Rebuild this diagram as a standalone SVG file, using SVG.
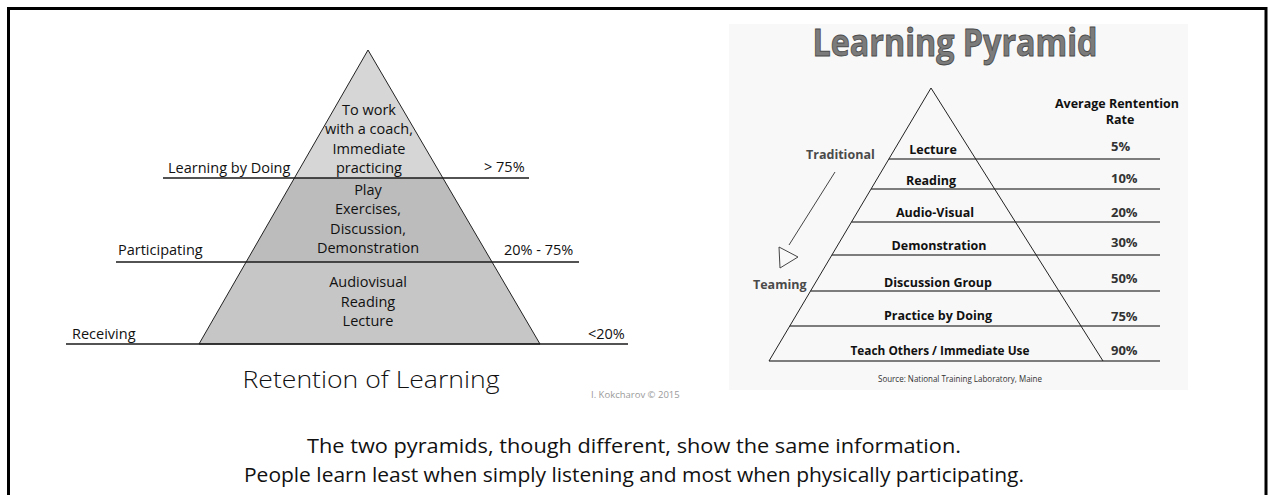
<svg xmlns="http://www.w3.org/2000/svg" width="1268" height="495" viewBox="0 0 1268 495">
<style>
.cal{font-family:"Open Sans","Liberation Sans",sans-serif;fill:#111}
.lt{font-size:14.5px;text-anchor:middle}
.side{font-size:14.5px}
.rb{font-family:"Open Sans","Liberation Sans",sans-serif;font-weight:bold;font-size:12.5px;fill:#111;text-anchor:middle}
.pct{font-family:"Open Sans","Liberation Sans",sans-serif;font-weight:bold;font-size:13px;fill:#333}
.gl{font-family:"Open Sans","Liberation Sans",sans-serif;font-weight:bold;font-size:12.5px;fill:#4a4a4a}
.lline{stroke:#1a1a1a;stroke-width:1.5;fill:none}
.rline{stroke:#555;stroke-width:1.6;fill:none}
.edge{stroke:#222;stroke-width:1;fill:none}
</style>
<rect x="0" y="0" width="1268" height="495" fill="#fff"/>
<g id="frame">
<path d="M8.5 500 V8.5 H1266 V500" fill="none" stroke="#000" stroke-width="3"/>
</g>

<g id="left-pyramid">
<g id="tier-top">
<polygon points="368,50 442.9,178 294.4,178" fill="#d6d6d6"/>
<text class="cal lt" x="369" y="115">To work</text>
<text class="cal lt" x="369" y="134">with a coach,</text>
<text class="cal lt" x="369" y="154">Immediate</text>
<text class="cal lt" x="369" y="173">practicing</text>
</g>
<g id="tier-middle">
<polygon points="294.4,178 442.9,178 492,262 246.1,262" fill="#bcbcbc"/>
<text class="cal lt" x="368" y="195">Play</text>
<text class="cal lt" x="368" y="214">Exercises,</text>
<text class="cal lt" x="368" y="234">Discussion,</text>
<text class="cal lt" x="368" y="253">Demonstration</text>
</g>
<g id="tier-bottom">
<polygon points="246.1,262 492,262 540,344 199,344" fill="#c6c6c6"/>
<text class="cal lt" x="368" y="287">Audiovisual</text>
<text class="cal lt" x="368" y="307">Reading</text>
<text class="cal lt" x="368" y="326">Lecture</text>
</g>
<polygon points="368,50 540,344 199,344" class="edge"/>
<line x1="163" y1="178" x2="529" y2="178" class="lline"/>
<line x1="116" y1="262" x2="579" y2="262" class="lline"/>
<line x1="66" y1="344" x2="628" y2="344" class="lline"/>
<g id="label-doing">
<text class="cal side" x="168" y="173">Learning by Doing</text>
<text class="cal side" x="484" y="172">&gt; 75%</text>
</g>
<g id="label-participating">
<text class="cal side" x="118" y="255">Participating</text>
<text class="cal side" x="504" y="255">20% - 75%</text>
</g>
<g id="label-receiving">
<text class="cal side" x="72" y="339">Receiving</text>
<text class="cal side" x="588" y="339">&lt;20%</text>
</g>
<text id="left-title" class="cal" x="371" y="388" font-size="24" font-weight="300" text-anchor="middle" textLength="257" lengthAdjust="spacingAndGlyphs">Retention of Learning</text>
<text id="credit" x="591" y="398" font-family="Open Sans, Liberation Sans, sans-serif" font-size="9.5" fill="#9a9a9a">I. Kokcharov © 2015</text>
</g>

<g id="right-pyramid">
<rect x="729" y="24" width="459" height="366" fill="#f8f8f8"/>
<text id="right-title" x="955" y="56" font-family="Open Sans, Liberation Sans, sans-serif" font-weight="bold" font-size="38" fill="#7b7b7b" stroke="#4a4a4a" stroke-width="0.9" text-anchor="middle" textLength="285" lengthAdjust="spacingAndGlyphs">Learning Pyramid</text>
<g id="header">
<text class="rb" x="1117" y="108">Average Rentention</text>
<text class="rb" x="1120" y="124">Rate</text>
</g>
<line x1="888.9" y1="159" x2="1160" y2="159" class="rline"/>
<line x1="871.1" y1="189" x2="1160" y2="189" class="rline"/>
<line x1="851.5" y1="222" x2="1160" y2="222" class="rline"/>
<line x1="831.9" y1="255" x2="1160" y2="255" class="rline"/>
<line x1="810.5" y1="291" x2="1160" y2="291" class="rline"/>
<line x1="789.8" y1="326" x2="1160" y2="326" class="rline"/>
<line x1="769" y1="361" x2="1160" y2="361" class="rline"/>
<polyline points="769,361 931,88 1103,361" class="edge"/>
<g id="r-lecture"><text class="rb" x="933" y="154">Lecture</text><text class="pct" x="1111" y="151">5%</text></g>
<g id="r-reading"><text class="rb" x="931" y="185">Reading</text><text class="pct" x="1111" y="183">10%</text></g>
<g id="r-av"><text class="rb" x="935" y="217">Audio-Visual</text><text class="pct" x="1111" y="217">20%</text></g>
<g id="r-demo"><text class="rb" x="939" y="250">Demonstration</text><text class="pct" x="1111" y="247">30%</text></g>
<g id="r-discussion"><text class="rb" x="938" y="287">Discussion Group</text><text class="pct" x="1111" y="283">50%</text></g>
<g id="r-practice"><text class="rb" x="938" y="320">Practice by Doing</text><text class="pct" x="1111" y="321">75%</text></g>
<g id="r-teach"><text class="rb" x="940" y="355" textLength="179" lengthAdjust="spacingAndGlyphs">Teach Others / Immediate Use</text><text class="pct" x="1111" y="355">90%</text></g>
<g id="traditional"><text class="gl" x="806" y="159">Traditional</text></g>
<g id="teaming"><text class="gl" x="753" y="289">Teaming</text></g>
<text id="source" x="960" y="382" font-family="Open Sans, Liberation Sans, sans-serif" font-size="8.5" fill="#333" text-anchor="middle" textLength="164" lengthAdjust="spacingAndGlyphs">Source: National Training Laboratory, Maine</text>
</g>

<g id="connectors">
<line x1="835" y1="172" x2="789" y2="245" stroke="#444" stroke-width="1"/>
<polygon points="779,247 798,257 780,268" fill="#f8f8f8" stroke="#444" stroke-width="1"/>
</g>

<g id="caption">
<text class="cal" x="634" y="453" font-size="20" text-anchor="middle" textLength="654" lengthAdjust="spacingAndGlyphs">The two pyramids, though different, show the same information.</text>
<text class="cal" x="634" y="482" font-size="20" text-anchor="middle" textLength="780" lengthAdjust="spacingAndGlyphs">People learn least when simply listening and most when physically participating.</text>
</g>
</svg>
